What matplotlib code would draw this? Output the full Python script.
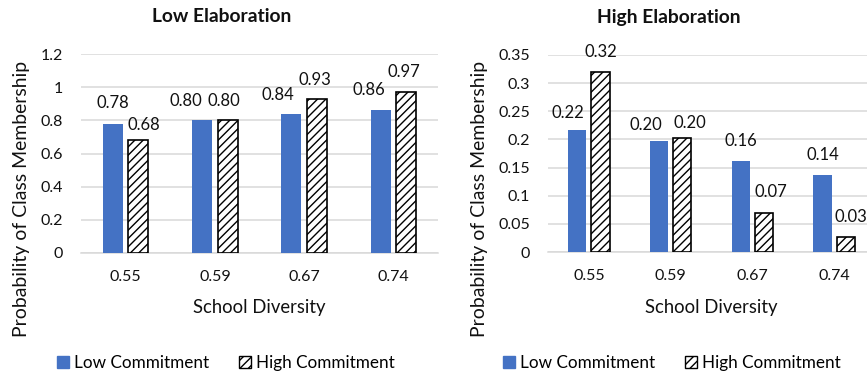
import matplotlib
matplotlib.use("Agg")
import matplotlib.pyplot as plt
import numpy as np
from matplotlib.patches import Patch

FAMILY = ['Lato', 'DejaVu Sans']
plt.rcParams['font.family'] = FAMILY
plt.rcParams['hatch.linewidth'] = 1.0

categories = ["0.55", "0.59", "0.67", "0.74"]
low_elab_low = [0.777, 0.80, 0.838, 0.863]
low_elab_high = [0.68, 0.80, 0.928, 0.972]
high_elab_low = [0.217, 0.197, 0.161, 0.136]
high_elab_high = [0.319, 0.203, 0.070, 0.026]
left_yticks = [0, 0.2, 0.4, 0.6, 0.8, 1.0, 1.2]
left_yticklabels = ["0", "0.2", "0.4", "0.6", "0.8", "1", "1.2"]
right_yticks = [0, 0.05, 0.1, 0.15, 0.2, 0.25, 0.3, 0.35]
right_yticklabels = ["0", "0.05", "0.1", "0.15", "0.2", "0.25", "0.3", "0.35"]

# label nudges in pixels (dx, dy) for low and high series
left_nudge_low = [(0, 21), (-16, 19), (-14, 19), (-12, 20)]
left_nudge_high = [(6, 15), (-4, 19), (-2, 19), (-2, 20)]
right_nudge_low = [(-9, 17), (-13, 16), (0, 20), (0, 20)]
right_nudge_high = [(0, 20), (8, 15), (7, 21), (5, 20)]

BLUE = "#4472C4"
GRID = "#d9d9d9"
TXT = "#111111"
HATCH = "////"

W, H = 867, 382
fig = plt.figure(figsize=(W / 100, H / 100), dpi=100)
renderer = fig.canvas.get_renderer()


def fit(text, target_px, weight="normal"):
    t = fig.text(0, 0, text, fontsize=10, fontweight=weight)
    w = t.get_window_extent(renderer).width
    t.remove()
    return 10 * target_px / w


FS_TICK = fit("0.55", 31.7)
FS_DATA = fit("0.78", 32.7)
FS_XLAB = fit("School Diversity", 133)
FS_YLAB = fit("Probability of Class Membership", 277)
FS_LEG = fit("Low Commitment", 135)
FS_TITLE = fit("Low Elaboration", 140, "bold")


def panel(rect, low, high, yticks, yticklabels, ylim, title, title_x, nud_low, nud_high, leg_x, ylab_x_px):
    ax = fig.add_axes(rect)
    x = np.arange(len(categories))
    off = 0.142
    bw = 0.225
    ax.bar(x - off, low, bw, color=BLUE, zorder=3)
    ax.bar(x + off, high, bw, facecolor="white", edgecolor="black",
           hatch=HATCH, linewidth=1.2, zorder=3)
    ax.set_xlim(-0.5, len(categories) - 0.5)
    ax.set_ylim(*ylim)
    ax.set_yticks(yticks)
    ax.set_yticklabels(yticklabels)
    ax.set_xticks(x)
    ax.set_xticklabels(categories)
    ax.tick_params(axis='both', length=0, colors=TXT, labelsize=FS_TICK)
    ax.tick_params(axis='y', pad=13)
    ax.tick_params(axis='x', pad=12)
    ax.grid(axis='y', color=GRID, linewidth=1.1, zorder=0)
    for s in ["top", "right", "left"]:
        ax.spines[s].set_visible(False)
    ax.spines["bottom"].set_color(GRID)
    ax.spines["bottom"].set_linewidth(1.1)
    ax.set_xlabel("School Diversity", fontsize=FS_XLAB, color=TXT, va="center")
    ax.set_ylabel("Probability of Class Membership", fontsize=FS_YLAB, color=TXT, va="center")
    axw = rect[2] * W
    axh = rect[3] * H
    axbot = (1 - rect[1]) * H
    ax.xaxis.set_label_coords(0.5, -(308 - axbot) / axh)
    ax.yaxis.set_label_coords((ylab_x_px - rect[0] * W) / axw, (axbot - 199) / axh)
    for xi, v, (dx, dy) in zip(x - off, low, nud_low):
        ax.annotate(f"{v:.2f}", (xi, v), xytext=(dx, dy), textcoords="offset pixels",
                    ha="center", va="center", fontsize=FS_DATA, color=TXT)
    for xi, v, (dx, dy) in zip(x + off, high, nud_high):
        ax.annotate(f"{v:.2f}", (xi, v), xytext=(dx, dy), textcoords="offset pixels",
                    ha="center", va="center", fontsize=FS_DATA, color=TXT)
    fig.text(title_x, 1 - 17 / H, title, ha="center", va="center", fontsize=FS_TITLE,
             fontweight="bold", color=TXT)
    handles = [Patch(facecolor=BLUE, edgecolor=BLUE),
               Patch(facecolor="white", edgecolor="black", hatch=HATCH)]
    fig.legend(handles, ["Low Commitment", "High Commitment"], loc="center",
               bbox_to_anchor=(leg_x, 1 - 363 / H), ncol=2, frameon=False,
               fontsize=FS_LEG, handlelength=0.7, handleheight=0.7,
               handletextpad=0.3, columnspacing=1.7)
    return ax


panel([81 / W, 1 - 253 / H, 357 / W, 199 / H], low_elab_low, low_elab_high,
      left_yticks, left_yticklabels, (0, 1.2), "Low Elaboration", 222 / W,
      left_nudge_low, left_nudge_high, 226 / W, 21.7)
panel([548 / W, 1 - 252 / H, 327 / W, 197 / H], high_elab_low, high_elab_high,
      right_yticks, right_yticklabels, (0, 0.35), "High Elaboration", 669 / W,
      right_nudge_low, right_nudge_high, 672 / W, 480)

fig.savefig("out.png", dpi=100)
